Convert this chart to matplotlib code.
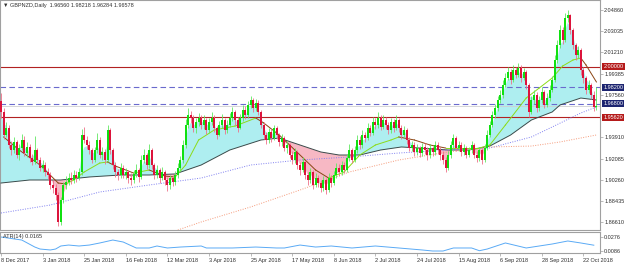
import matplotlib
matplotlib.use("Agg")
import matplotlib.pyplot as plt
import matplotlib.transforms as mtransforms
import numpy as np
import pandas as pd

# ---- daily GBPNZD candles ----
first_open = 1.9700
closes = [
    1.9609, 1.9411, 1.9471, 1.9325, 1.9282, 1.9351, 1.9239, 1.9299, 1.9368, 1.9256,
    1.9308, 1.9213, 1.9179, 1.9282, 1.9196, 1.9127, 1.9153, 1.9093, 1.9067, 1.8981,
    1.8955, 1.8895, 1.8663, 1.8852, 1.8981, 1.9007, 1.9041, 1.9024, 1.9067, 1.9041,
    1.9093, 1.9411, 1.9368, 1.9325, 1.9282, 1.9196, 1.9282, 1.9368, 1.9239, 1.9265,
    1.9196, 1.9454, 1.9282, 1.9153, 1.9093, 1.9067, 1.9127, 1.9067, 1.9093, 1.9041,
    1.9024, 1.9076, 1.9110, 1.9050, 1.9196, 1.9239, 1.9153, 1.9282, 1.9153, 1.9067,
    1.9110, 1.9041, 1.9093, 1.9024, 1.8981, 1.9041, 1.9007, 1.9067, 1.9127, 1.9196,
    1.9325, 1.9497, 1.9583, 1.9557, 1.9471, 1.9523, 1.9557, 1.9497, 1.9540, 1.9454,
    1.9523, 1.9557, 1.9471, 1.9411, 1.9497, 1.9540, 1.9454, 1.9497, 1.9557, 1.9609,
    1.9540, 1.9471, 1.9557, 1.9626, 1.9583, 1.9669, 1.9712, 1.9643, 1.9686, 1.9609,
    1.9497, 1.9411, 1.9368, 1.9437, 1.9385, 1.9471, 1.9411, 1.9351, 1.9385, 1.9299,
    1.9325, 1.9239, 1.9196, 1.9265, 1.9153, 1.9110, 1.9179, 1.9067, 1.9024, 1.9093,
    1.8981, 1.9041, 1.8998, 1.8955, 1.9024, 1.8938, 1.9041, 1.8998, 1.9067, 1.9127,
    1.9093, 1.9153, 1.9110, 1.9213, 1.9282, 1.9196, 1.9282, 1.9368, 1.9325, 1.9411,
    1.9385, 1.9471, 1.9428, 1.9523, 1.9497, 1.9557, 1.9480, 1.9540, 1.9497, 1.9454,
    1.9523, 1.9471, 1.9540, 1.9471, 1.9411, 1.9454, 1.9368, 1.9299, 1.9325, 1.9265,
    1.9299, 1.9256, 1.9308, 1.9282, 1.9239, 1.9299, 1.9265, 1.9325, 1.9282, 1.9239,
    1.9196, 1.9127, 1.9239, 1.9325, 1.9385, 1.9299, 1.9325, 1.9265, 1.9299, 1.9239,
    1.9282, 1.9325, 1.9239, 1.9213, 1.9282, 1.9196, 1.9299, 1.9411, 1.9497, 1.9583,
    1.9643, 1.9712, 1.9755, 1.9841, 1.9901, 1.9953, 1.9884, 1.9970, 1.9927, 1.9987,
    1.9901, 1.9953, 1.9841, 1.9609, 1.9712, 1.9755, 1.9643, 1.9712, 1.9781, 1.9669,
    1.9729, 1.9798, 1.9884, 2.0056, 2.0185, 2.0314, 2.0228, 2.0417, 2.0443, 2.0314,
    2.0185, 2.0099, 2.0142, 1.9970, 1.9901, 1.9798, 1.9841, 1.9755, 1.9656, 1.96578,
]
highs = [
    1.9772, 1.9640, 1.9520, 1.9500, 1.9360, 1.9390, 1.9370, 1.9330, 1.9420, 1.9400,
    1.9350, 1.9330, 1.9250, 1.9400, 1.9300, 1.9220, 1.9200, 1.9180, 1.9130, 1.9090,
    1.9020, 1.8990, 1.8920, 1.8880, 1.9010, 1.9060, 1.9080, 1.9090, 1.9110, 1.9100,
    1.9130, 1.9460, 1.9480, 1.9400, 1.9360, 1.9300, 1.9310, 1.9430, 1.9390, 1.9310,
    1.9290, 1.9500, 1.9470, 1.9300, 1.9180, 1.9120, 1.9170, 1.9150, 1.9130, 1.9110,
    1.9080, 1.9110, 1.9160, 1.9130, 1.9240, 1.9290, 1.9260, 1.9330, 1.9300, 1.9170,
    1.9150, 1.9130, 1.9140, 1.9110, 1.9050, 1.9070, 1.9070, 1.9100, 1.9170, 1.9230,
    1.9370, 1.9550, 1.9640, 1.9620, 1.9580, 1.9560, 1.9600, 1.9580, 1.9580, 1.9560,
    1.9560, 1.9610, 1.9580, 1.9490, 1.9530, 1.9590, 1.9560, 1.9540, 1.9600, 1.9650,
    1.9630, 1.9570, 1.9590, 1.9670, 1.9660, 1.9700, 1.9750, 1.9730, 1.9720, 1.9710,
    1.9630, 1.9520, 1.9440, 1.9470, 1.9460, 1.9500, 1.9490, 1.9430, 1.9420, 1.9400,
    1.9360, 1.9340, 1.9270, 1.9300, 1.9280, 1.9180, 1.9220, 1.9190, 1.9090, 1.9130,
    1.9110, 1.9080, 1.9070, 1.9020, 1.9060, 1.9040, 1.9080, 1.9070, 1.9100, 1.9170,
    1.9160, 1.9190, 1.9180, 1.9250, 1.9330, 1.9300, 1.9320, 1.9410, 1.9400, 1.9450,
    1.9440, 1.9510, 1.9500, 1.9570, 1.9560, 1.9610, 1.9580, 1.9580, 1.9570, 1.9520,
    1.9560, 1.9550, 1.9580, 1.9560, 1.9500, 1.9490, 1.9470, 1.9390, 1.9360, 1.9350,
    1.9330, 1.9320, 1.9340, 1.9340, 1.9310, 1.9330, 1.9320, 1.9360, 1.9350, 1.9310,
    1.9270, 1.9220, 1.9270, 1.9360, 1.9420, 1.9400, 1.9360, 1.9350, 1.9330, 1.9320,
    1.9310, 1.9360, 1.9340, 1.9270, 1.9310, 1.9300, 1.9330, 1.9450, 1.9530, 1.9620,
    1.9680, 1.9750, 1.9800, 1.9880, 1.9940, 2.0000, 1.9980, 2.0010, 2.0000, 2.0030,
    2.0010, 1.9990, 1.9970, 1.9860, 1.9750, 1.9800, 1.9780, 1.9750, 1.9820, 1.9800,
    1.9770, 1.9840, 1.9920, 2.0100, 2.0230, 2.0360, 2.0340, 2.0460, 2.0490, 2.0450,
    2.0330, 2.0200, 2.0180, 2.0160, 2.0000, 1.9920, 1.9880, 1.9860, 1.9790, 1.98218,
]
lows = [
    1.9560, 1.9380, 1.9390, 1.9300, 1.9240, 1.9260, 1.9210, 1.9200, 1.9280, 1.9230,
    1.9220, 1.9180, 1.9150, 1.9160, 1.9170, 1.9100, 1.9090, 1.9060, 1.9030, 1.8950,
    1.8910, 1.8850, 1.8630, 1.8640, 1.8830, 1.8950, 1.8980, 1.8990, 1.9000, 1.9010,
    1.9020, 1.9070, 1.9340, 1.9290, 1.9250, 1.9170, 1.9180, 1.9260, 1.9210, 1.9200,
    1.9160, 1.9180, 1.9250, 1.9120, 1.9050, 1.9020, 1.9040, 1.9040, 1.9030, 1.9000,
    1.8980, 1.9000, 1.9050, 1.9010, 1.9030, 1.9170, 1.9120, 1.9130, 1.9120, 1.9030,
    1.9040, 1.9000, 1.9020, 1.8980, 1.8930, 1.8950, 1.8970, 1.8980, 1.9040, 1.9100,
    1.9170, 1.9300, 1.9470, 1.9510, 1.9440, 1.9430, 1.9490, 1.9460, 1.9460, 1.9420,
    1.9430, 1.9500, 1.9440, 1.9380, 1.9400, 1.9470, 1.9420, 1.9430, 1.9480, 1.9530,
    1.9500, 1.9440, 1.9460, 1.9530, 1.9550, 1.9560, 1.9640, 1.9610, 1.9620, 1.9580,
    1.9470, 1.9380, 1.9330, 1.9340, 1.9350, 1.9370, 1.9380, 1.9320, 1.9320, 1.9270,
    1.9260, 1.9210, 1.9160, 1.9170, 1.9120, 1.9070, 1.9090, 1.9030, 1.8980, 1.9000,
    1.8950, 1.8960, 1.8960, 1.8920, 1.8930, 1.8900, 1.8920, 1.8960, 1.8980, 1.9040,
    1.9060, 1.9070, 1.9080, 1.9090, 1.9190, 1.9170, 1.9180, 1.9260, 1.9290, 1.9300,
    1.9350, 1.9370, 1.9400, 1.9410, 1.9460, 1.9470, 1.9450, 1.9460, 1.9460, 1.9420,
    1.9430, 1.9440, 1.9450, 1.9440, 1.9380, 1.9390, 1.9330, 1.9270, 1.9270, 1.9230,
    1.9240, 1.9220, 1.9230, 1.9250, 1.9200, 1.9210, 1.9230, 1.9240, 1.9250, 1.9200,
    1.9160, 1.9090, 1.9110, 1.9210, 1.9300, 1.9270, 1.9270, 1.9230, 1.9240, 1.9210,
    1.9220, 1.9260, 1.9210, 1.9180, 1.9190, 1.9160, 1.9180, 1.9280, 1.9390, 1.9480,
    1.9560, 1.9620, 1.9690, 1.9730, 1.9820, 1.9880, 1.9850, 1.9870, 1.9900, 1.9910,
    1.9870, 1.9880, 1.9810, 1.9570, 1.9590, 1.9680, 1.9610, 1.9620, 1.9690, 1.9640,
    1.9650, 1.9700, 1.9780, 1.9870, 2.0030, 2.0160, 2.0190, 2.0210, 2.0380, 2.0280,
    2.0150, 2.0060, 2.0070, 1.9930, 1.9860, 1.9760, 1.9770, 1.9720, 1.9620, 1.96284,
]

# moving averages, read at sparse bars: (bar index, price)
fast_ma_bar = [1, 7, 15, 22, 25, 28, 32, 38, 41, 44, 51, 57, 63, 67, 71, 76, 82, 90, 98,
               101, 107, 113, 121, 126, 132, 138, 144, 150, 153, 159, 165, 171, 178, 184,
               188, 194, 202, 207, 212, 216, 220, 223, 225, 229]
fast_ma_val = [1.9394, 1.9282, 1.9153, 1.8998, 1.8990, 1.9024, 1.9093, 1.9170, 1.9179,
               1.9144, 1.9084, 1.9110, 1.9058, 1.9050, 1.9153, 1.9368, 1.9454, 1.9488,
               1.9557, 1.9515, 1.9411, 1.9282, 1.9110, 1.9041, 1.9093, 1.9239, 1.9325,
               1.9368, 1.9394, 1.9368, 1.9325, 1.9299, 1.9299, 1.9299, 1.9325, 1.9497,
               1.9729, 1.9815, 1.9901, 2.0004, 2.0056, 2.0073, 2.0013, 1.9867]

slow_ma_bar = [0, 11, 23, 34, 46, 57, 67, 77, 88, 100, 107, 115, 123, 130, 138, 146, 154,
               161, 172, 180, 188, 196, 204, 212, 215, 223, 229]
slow_ma_val = [1.8998, 1.9024, 1.9024, 1.9050, 1.9067, 1.9067, 1.9076, 1.9153, 1.9282,
               1.9368, 1.9385, 1.9325, 1.9265, 1.9239, 1.9239, 1.9282, 1.9308, 1.9299,
               1.9282, 1.9282, 1.9316, 1.9411, 1.9540, 1.9609, 1.9669, 1.9729, 1.9712]

ma100_bar = [0, 19, 38, 57, 77, 96, 115, 134, 153, 172, 188, 204, 212, 223, 229]
ma100_val = [1.8740, 1.8809, 1.8921, 1.8981, 1.9041, 1.9153, 1.9196, 1.9222, 1.9256,
             1.9282, 1.9299, 1.9394, 1.9480, 1.9600, 1.9652]

ma200_bar = [68, 77, 96, 115, 134, 153, 172, 188, 204, 215, 229]
ma200_val = [1.8594, 1.8663, 1.8792, 1.8938, 1.9093, 1.9196, 1.9265, 1.9308, 1.9316,
             1.9351, 1.9411]

atr_bar = [0, 8, 13, 15, 19, 21, 23, 26, 30, 34, 38, 43, 47, 52, 57, 60, 64, 69, 77, 79,
           89, 98, 106, 109, 115, 121, 127, 135, 144, 153, 162, 166, 170, 174, 181, 184,
           187, 194, 202, 207, 212, 218, 223, 228]
atr_val = [0.0276, 0.0235, 0.0140, 0.0113, 0.0100, 0.0113, 0.0154, 0.0167, 0.0154, 0.0167,
           0.0195, 0.0235, 0.0208, 0.0127, 0.0127, 0.0154, 0.0127, 0.0140, 0.0154, 0.0127,
           0.0127, 0.0140, 0.0127, 0.0127, 0.0167, 0.0140, 0.0154, 0.0127, 0.0154, 0.0127,
           0.0100, 0.0086, 0.0086, 0.0127, 0.0127, 0.0090, 0.0113, 0.0195, 0.0127, 0.0154,
           0.0181, 0.0222, 0.0195, 0.0165]

red_levels = [2.00000, 1.95620]
blue_levels = [1.98200, 1.96800]
bid_price = 1.96578

price_ticks = [2.04860, 2.03035, 2.01210, 1.99385, 1.97560, 1.93910, 1.92085, 1.90260,
               1.88435, 1.86610]
date_labels = ["8 Dec 2017", "3 Jan 2018", "25 Jan 2018", "16 Feb 2018", "12 Mar 2018",
               "3 Apr 2018", "25 Apr 2018", "17 May 2018", "8 Jun 2018", "2 Jul 2018",
               "24 Jul 2018", "15 Aug 2018", "6 Sep 2018", "28 Sep 2018", "22 Oct 2018"]
header = "\u25bc GBPNZD,Daily  1.96560 1.98218 1.96284 1.96578"

plt.rcParams["font.family"] = ["Liberation Sans", "DejaVu Sans"]

W, H = 625, 263
BULL, BEAR = "#10e010", "#dc143c"
BULL_WICK, BEAR_WICK = "#60e860", "#ee7088"
AXC = "#a0a0a0"
TXT = "#303030"
FS = 4.0

fig = plt.figure(figsize=(W / 100, H / 100), dpi=100)
fig.patch.set_facecolor("white")
ax = fig.add_axes([0, 1 - 230 / H, 600 / W, 230 / H])
ax_atr = fig.add_axes([0, 1 - 253 / H, 600 / W, 21 / H])

x = np.arange(len(closes))
c = np.array(closes)
o = np.concatenate([[first_open], c[:-1]])
o[-1] = 1.96560
hi = np.array(highs)
lo = np.array(lows)

# fill between the smoothed price and the slow MA
fast_px = pd.Series(c).ewm(span=3, adjust=False).mean().to_numpy()
slow_line = np.interp(x, slow_ma_bar, slow_ma_val)
ax.fill_between(x, fast_px, slow_line, where=fast_px >= slow_line, interpolate=True,
                color="#aeeef0", lw=0, zorder=1)
ax.fill_between(x, fast_px, slow_line, where=fast_px < slow_line, interpolate=True,
                color="#f7b8c4", lw=0, zorder=1)

# horizontal levels
for lv in red_levels:
    ax.axhline(lv, color="#b22222", lw=0.8, zorder=2)
for lv in blue_levels:
    ax.axhline(lv, color="#6a6acd", lw=0.8, ls=(0, (5, 3)), zorder=2)
ax.axhline(bid_price, color="#d0d0d0", lw=0.6, zorder=2)

# moving averages
ax.plot(slow_ma_bar, slow_ma_val, color="#3a4a4a", lw=0.7, zorder=3)
ax.plot(ma100_bar, ma100_val, color="#8080f0", lw=0.7, ls=(0, (1, 1.5)), zorder=3)
ax.plot(ma200_bar, ma200_val, color="#f59a7a", lw=0.7, ls=(0, (1, 1.5)), zorder=3)
for k in range(len(fast_ma_bar) - 1):
    col = "#8cdc18" if fast_ma_val[k + 1] >= fast_ma_val[k] else "#8b4513"
    ax.plot(fast_ma_bar[k:k + 2], fast_ma_val[k:k + 2], color=col, lw=0.7, zorder=3)

# candles
up = c >= o
cols = np.where(up, BULL, BEAR)
wick_cols = np.where(up, BULL_WICK, BEAR_WICK)
ax.vlines(x, lo, hi, colors=wick_cols, lw=0.6, zorder=4)
body_h = np.maximum(np.abs(c - o), 0.0004)
ax.bar(x, body_h, bottom=np.minimum(o, c), width=0.8, color=cols, lw=0, zorder=5)

ax.set_xlim(-0.385, 230.38)
ax.set_ylim(1.8594, 2.0572)
ax.yaxis.tick_right()
ax.set_yticks(price_ticks)
ax.set_yticklabels([f"{v:.5f}" for v in price_ticks])
ax.tick_params(axis="y", labelsize=FS, labelcolor=TXT, length=2, width=0.5, color=AXC, pad=1)
ax.set_xticks([])
for s in ax.spines.values():
    s.set_color(AXC)
    s.set_linewidth(0.8)

blend = mtransforms.blended_transform_factory(ax.transAxes, ax.transData)
boxes = [(2.00000, "#b51a1a"), (1.98200, "#1c2470"), (1.96800, "#1c2470"), (1.95620, "#b51a1a")]
for lv, fc in boxes:
    ax.text(1.0055, lv, f"{lv:.5f}", transform=blend, fontsize=FS, color="white",
            ha="left", va="center", clip_on=False,
            bbox=dict(boxstyle="square,pad=0.2", fc=fc, ec="none"))

fig.text(3 / W, 1 - 5 / H, header, fontsize=FS, color=TXT, ha="left", va="center")

# ATR panel
ax_atr.plot(atr_bar, atr_val, color="#5aaaf5", lw=0.7)
ax_atr.set_xlim(-0.385, 230.38)
ax_atr.set_ylim(0.0059, 0.0344)
ax_atr.yaxis.tick_right()
ax_atr.set_yticks([0.0276, 0.0086])
ax_atr.set_yticklabels(["0.0276", "0.0086"])
ax_atr.tick_params(axis="y", labelsize=FS, labelcolor=TXT, length=2, width=0.5, color=AXC, pad=1)
ax_atr.set_xticks([16 * k for k in range(len(date_labels))])
ax_atr.set_xticklabels(date_labels)
ax_atr.tick_params(axis="x", labelsize=FS, labelcolor=TXT, length=2, width=0.5, color=AXC, pad=1.5)
for lab in ax_atr.get_xticklabels():
    lab.set_horizontalalignment("left")
for s in ax_atr.spines.values():
    s.set_color(AXC)
    s.set_linewidth(0.8)
ax_atr.text(3 / 600, 0.8, "ATR(14) 0.0165", transform=ax_atr.transAxes, fontsize=FS,
            color=TXT, ha="left", va="center")

fig.savefig("out.png", dpi=100, facecolor="white")
